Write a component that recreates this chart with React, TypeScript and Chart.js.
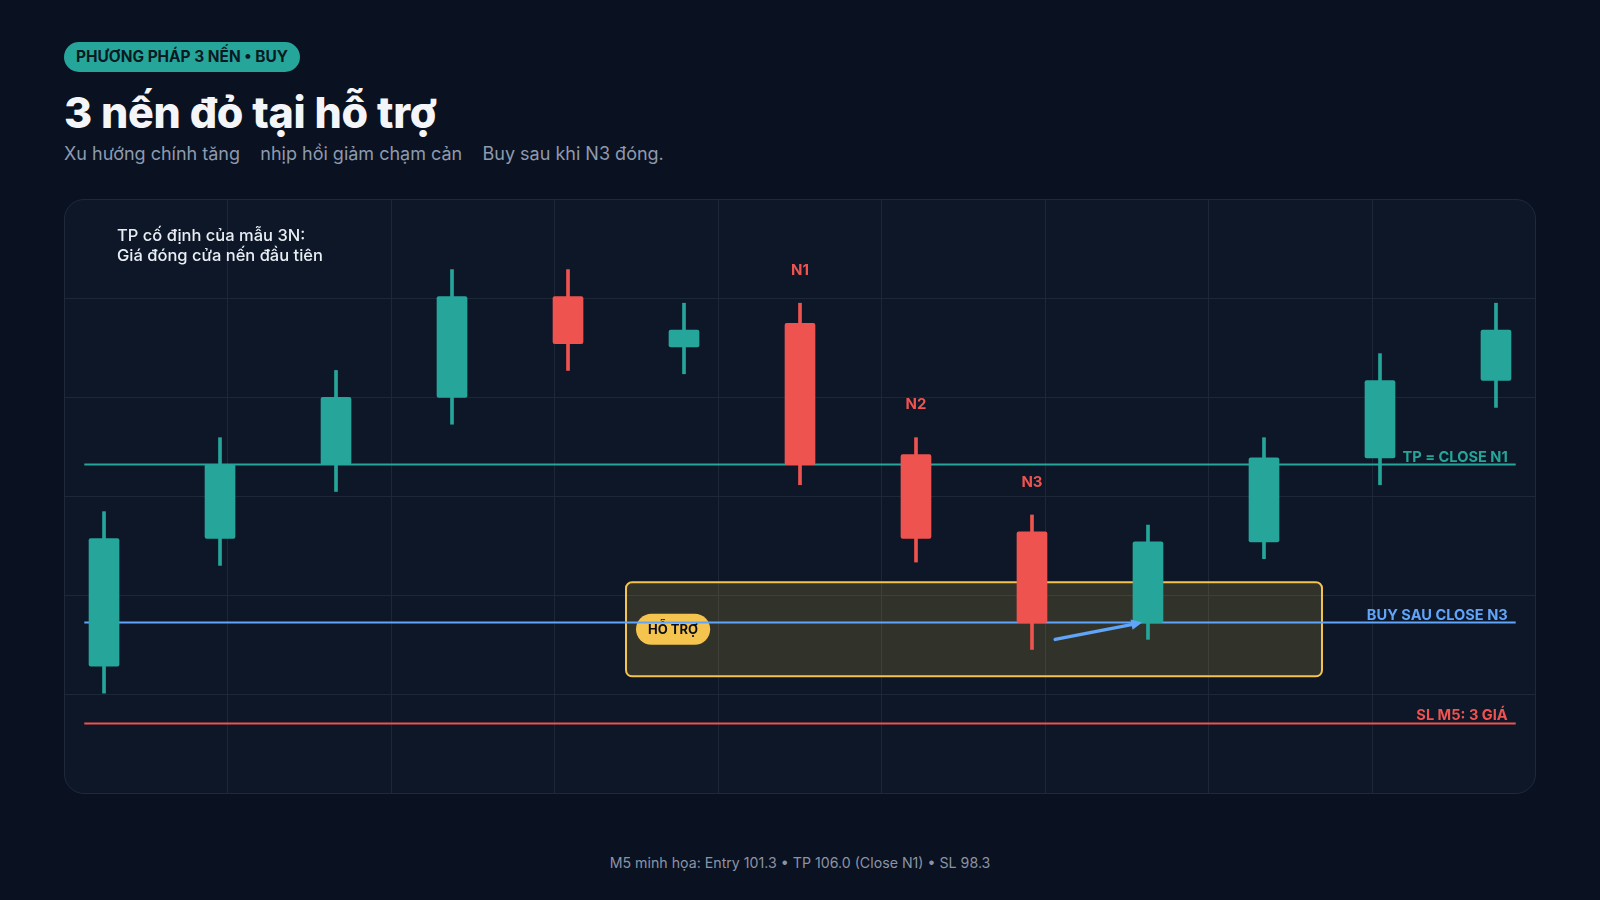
import { useEffect, useRef } from 'react';
import { Chart, registerables } from 'chart.js';

Chart.register(...registerables);

// candles (M5 illustration), x = candle index
const candleIndex = [0, 1, 2, 3, 4, 5, 6, 7, 8, 9, 10, 11, 12];
const opens = [100.0, 103.8, 106.0, 108.0, 111.0, 109.5, 110.2, 106.3, 104.0, 101.3, 103.7, 106.2, 108.5];
const closes = [103.8, 106.0, 108.0, 111.0, 109.6, 110.0, 106.0, 103.8, 101.3, 103.7, 106.2, 108.5, 110.0];
const highs = [104.6, 106.8, 108.8, 111.8, 111.8, 110.8, 110.8, 106.8, 104.5, 104.2, 106.8, 109.3, 110.8];
const lows = [99.2, 103.0, 105.2, 107.2, 108.8, 108.7, 105.4, 103.1, 100.5, 100.8, 103.2, 105.4, 107.7];
const candleTags = ['', '', '', '', '', '', 'N1', 'N2', 'N3', '', '', '', ''];

// reference levels
const levelNames = ['TP = CLOSE N1', 'BUY SAU CLOSE N3', 'SL M5: 3 GIÁ'];
const levelPrices = [106.0, 101.3, 98.3];
const levelColors = ['#26a69a', '#60a5fa', '#ef5350'];
const levelSpan = [-0.17, 12.17];

// support zone + arrow
const zoneX = [4.5, 10.5];
const zoneY = [99.7, 102.5];
const zoneTag = 'HỖ TRỢ';
const zoneTagPrice = 101.1;
const arrowFrom = [8.2, 100.8];
const arrowTo = [8.95, 101.3];

const xRange = [-0.345, 12.345];
const yRange = [96.2, 113.9];

const UP = '#26a69a';
const DOWN = '#ef5350';
const BLUE = '#60a5fa';
const YELLOW = '#f4c44e';
const FONT = 'Inter, "Noto Sans", sans-serif';

const overlayPlugin = {
  id: 'overlay',
  beforeDatasetsDraw(chart: any) {
    const { ctx, scales } = chart;
    const x = scales.x;
    const y = scales.y;
    const x0 = x.getPixelForValue(zoneX[0]);
    const x1 = x.getPixelForValue(zoneX[1]);
    const y0 = y.getPixelForValue(zoneY[1]);
    const y1 = y.getPixelForValue(zoneY[0]);
    ctx.save();
    ctx.beginPath();
    ctx.roundRect(x0, y0, x1 - x0, y1 - y0, 6);
    ctx.fillStyle = 'rgba(245, 197, 66, 0.16)';
    ctx.fill();
    ctx.lineWidth = 2;
    ctx.strokeStyle = YELLOW;
    ctx.stroke();

    // zone tag pill
    ctx.font = `bold 13px ${FONT}`;
    const tw = ctx.measureText(zoneTag).width;
    const pw = tw + 24;
    const ph = 31;
    const px = x0 + 10;
    const pc = y.getPixelForValue(zoneTagPrice);
    ctx.beginPath();
    ctx.roundRect(px, pc - ph / 2, pw, ph, ph / 2);
    ctx.fillStyle = YELLOW;
    ctx.fill();
    ctx.fillStyle = '#0b0f17';
    ctx.textAlign = 'center';
    ctx.textBaseline = 'middle';
    ctx.fillText(zoneTag, px + pw / 2, pc + 1);
    ctx.restore();
  },
  afterDatasetsDraw(chart: any) {
    const { ctx, scales } = chart;
    const x = scales.x;
    const y = scales.y;
    ctx.save();

    // level labels
    ctx.font = `bold 14.6px ${FONT}`;
    ctx.textAlign = 'right';
    ctx.textBaseline = 'alphabetic';
    levelNames.forEach((name, i) => {
      ctx.fillStyle = levelColors[i];
      ctx.fillText(name, x.getPixelForValue(levelSpan[1]) - 8, y.getPixelForValue(levelPrices[i]) - 3);
    });

    // N1..N3 tags
    ctx.font = `bold 15px ${FONT}`;
    ctx.textAlign = 'center';
    ctx.textBaseline = 'middle';
    ctx.fillStyle = DOWN;
    candleTags.forEach((tag, i) => {
      if (!tag) return;
      ctx.fillText(tag, x.getPixelForValue(candleIndex[i]), y.getPixelForValue(highs[i]) - 33);
    });

    // arrow
    const ax0 = x.getPixelForValue(arrowFrom[0]);
    const ay0 = y.getPixelForValue(arrowFrom[1]);
    const ax1 = x.getPixelForValue(arrowTo[0]);
    const ay1 = y.getPixelForValue(arrowTo[1]);
    const ang = Math.atan2(ay1 - ay0, ax1 - ax0);
    const head = 12;
    ctx.strokeStyle = BLUE;
    ctx.fillStyle = BLUE;
    ctx.lineWidth = 3.5;
    ctx.lineCap = 'round';
    ctx.beginPath();
    ctx.moveTo(ax0, ay0);
    ctx.lineTo(ax1 - Math.cos(ang) * head * 0.7, ay1 - Math.sin(ang) * head * 0.7);
    ctx.stroke();
    ctx.beginPath();
    ctx.moveTo(ax1, ay1);
    ctx.lineTo(ax1 - head * Math.cos(ang - 0.45), ay1 - head * Math.sin(ang - 0.45));
    ctx.lineTo(ax1 - head * Math.cos(ang + 0.45), ay1 - head * Math.sin(ang + 0.45));
    ctx.closePath();
    ctx.fill();
    ctx.restore();
  },
};

function CandleChart() {
  const chartRef = useRef<HTMLCanvasElement>(null);
  const chartInstance = useRef<Chart | null>(null);

  useEffect(() => {
    if (!chartRef.current) return;
    if (chartInstance.current) chartInstance.current.destroy();
    const ctx = chartRef.current.getContext('2d');
    if (!ctx) return;

    const colors = candleIndex.map((_, i) => (closes[i] >= opens[i] ? UP : DOWN));

    const levelSets = levelPrices.map((p, i) => ({
      type: 'line' as const,
      data: [
        { x: levelSpan[0], y: p },
        { x: levelSpan[1], y: p },
      ],
      borderColor: levelColors[i],
      borderWidth: 2,
      pointRadius: 0,
      order: 3,
    }));

    chartInstance.current = new Chart(ctx, {
      type: 'bar',
      data: {
        datasets: [
          ...levelSets,
          {
            type: 'bar',
            data: candleIndex.map((c, i) => ({ x: c, y: [lows[i], highs[i]] })),
            backgroundColor: colors,
            barThickness: 3,
            grouped: false,
            order: 2,
          },
          {
            type: 'bar',
            data: candleIndex.map((c, i) => ({ x: c, y: [opens[i], closes[i]] })),
            backgroundColor: colors,
            barThickness: 30,
            borderRadius: 2,
            borderSkipped: false,
            grouped: false,
            order: 1,
          },
        ] as any,
      },
      options: {
        animation: false,
        responsive: true,
        maintainAspectRatio: false,
        layout: { padding: 0 },
        plugins: {
          legend: { display: false },
          tooltip: { enabled: false },
        },
        scales: {
          x: {
            type: 'linear',
            min: xRange[0],
            max: xRange[1],
            offset: false,
            grid: { color: '#1c2737', lineWidth: 1, drawTicks: false, offset: false },
            border: { display: false },
            ticks: { display: false },
            afterBuildTicks: (axis: any) => {
              const step = (xRange[1] - xRange[0]) / 9;
              axis.ticks = [1, 2, 3, 4, 5, 6, 7, 8].map((k) => ({ value: xRange[0] + k * step }));
            },
          },
          y: {
            type: 'linear',
            min: yRange[0],
            max: yRange[1],
            grid: { color: '#1c2737', lineWidth: 1, drawTicks: false },
            border: { display: false },
            ticks: { display: false },
            afterBuildTicks: (axis: any) => {
              const step = (yRange[1] - yRange[0]) / 6;
              axis.ticks = [1, 2, 3, 4, 5].map((k) => ({ value: yRange[0] + k * step }));
            },
          },
        },
      },
      plugins: [overlayPlugin],
    });

    return () => {
      if (chartInstance.current) {
        chartInstance.current.destroy();
        chartInstance.current = null;
      }
    };
  }, []);

  return (
    <div style={{ position: 'absolute', left: -1, top: -1, width: 1472, height: 595 }}>
      <canvas ref={chartRef}></canvas>
    </div>
  );
}

export default function App() {
  return (
    <div
      style={{
        position: 'fixed',
        inset: 0,
        width: 1600,
        height: 900,
        background: '#0a1120',
        fontFamily: FONT,
        overflow: 'hidden',
      }}
    >
      <div
        style={{
          position: 'absolute',
          left: 64,
          top: 42,
          height: 30,
          lineHeight: '30px',
          padding: '0 12px',
          borderRadius: 15,
          background: '#26a69a',
          color: '#0a1a22',
          fontSize: 15.4,
          fontWeight: 700,
          whiteSpace: 'nowrap',
        }}
      >
        PHƯƠNG PHÁP 3 NẾN • BUY
      </div>
      <div
        style={{
          position: 'absolute',
          left: 64,
          top: 91,
          lineHeight: '43px',
          fontSize: 43,
          fontWeight: 800,
          color: '#f3f5f8',
          whiteSpace: 'nowrap',
          letterSpacing: -0.3,
        }}
      >
        3 nến đỏ tại hỗ trợ
      </div>
      <div
        style={{
          position: 'absolute',
          left: 64,
          top: 143,
          lineHeight: '22px',
          fontSize: 18,
          color: '#8e9aae',
          whiteSpace: 'pre',
        }}
      >
        {'Xu hướng chính tăng    nhịp hồi giảm chạm cản    Buy sau khi N3 đóng.'}
      </div>

      <div
        style={{
          position: 'absolute',
          left: 64,
          top: 199,
          width: 1472,
          height: 595,
          boxSizing: 'border-box',
          border: '1px solid #1e2a3b',
          borderRadius: 20,
          background: '#0d1727',
          overflow: 'hidden',
        }}
      >
        <CandleChart />
        <div
          style={{
            position: 'absolute',
            left: 52,
            top: 25,
            fontSize: 16.5,
            lineHeight: '20px',
            fontWeight: 500,
            color: '#e9eef5',
            whiteSpace: 'nowrap',
          }}
        >
          TP cố định của mẫu 3N:
          <br />
          Giá đóng cửa nến đầu tiên
        </div>
      </div>

      <div
        style={{
          position: 'absolute',
          left: 0,
          width: 1600,
          top: 854,
          textAlign: 'center',
          fontSize: 14.2,
          lineHeight: '18px',
          color: '#8a94a6',
        }}
      >
        M5 minh họa: Entry 101.3 • TP 106.0 (Close N1) • SL 98.3
      </div>
    </div>
  );
}
